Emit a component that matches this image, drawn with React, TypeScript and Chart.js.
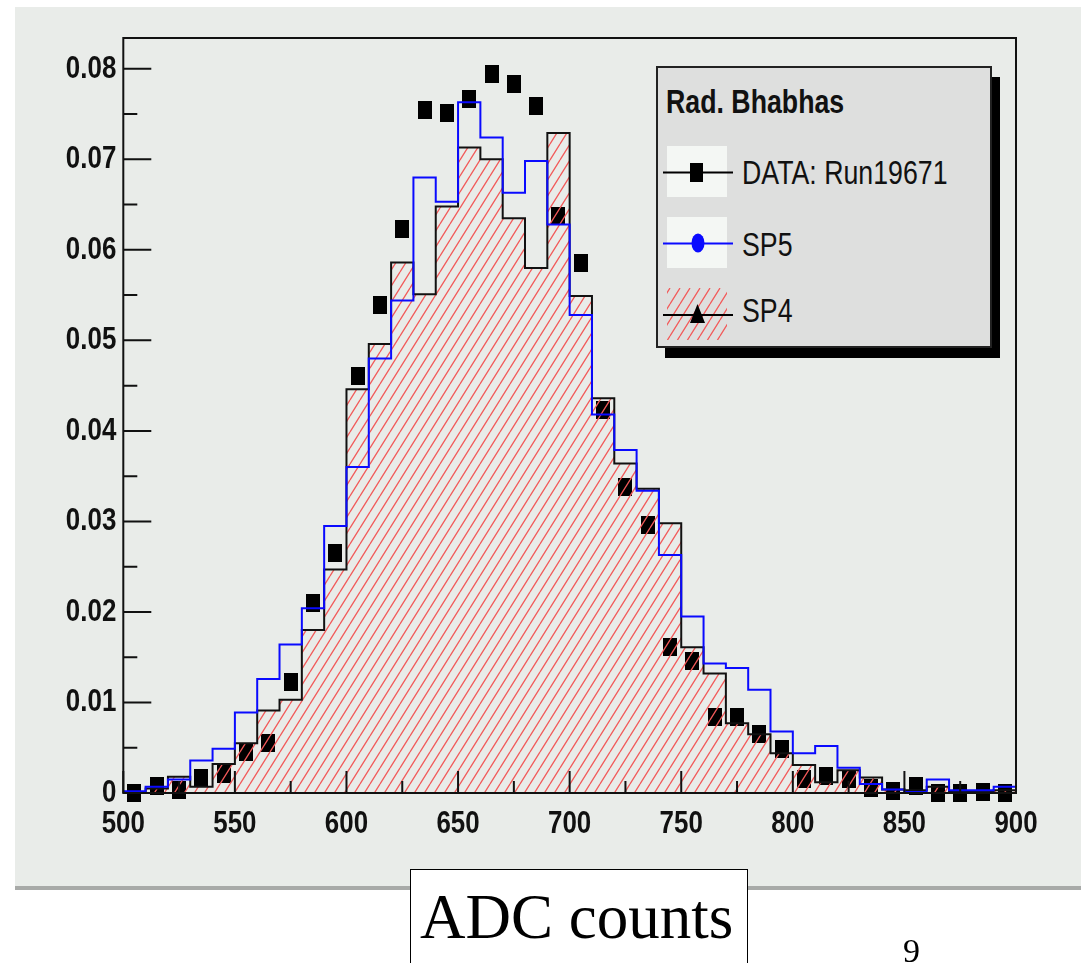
import React, { useEffect, useRef } from 'react';
import { Chart, registerables } from 'chart.js';

Chart.register(...registerables);

// ---- data ----
const binLowEdges = [
  500, 510, 520, 530, 540, 550, 560, 570, 580, 590,
  600, 610, 620, 630, 640, 650, 660, 670, 680, 690,
  700, 710, 720, 730, 740, 750, 760, 770, 780, 790,
  800, 810, 820, 830, 840, 850, 860, 870, 880, 890,
];
const histMin = 500;
const histMax = 900;

const sp4Values = [
  0.0001, 0.0005, 0.0018, 0.0007, 0.0032, 0.0055, 0.0091, 0.0103, 0.0180, 0.0247,
  0.0446, 0.0496, 0.0586, 0.0551, 0.0648, 0.0713, 0.0700, 0.0635, 0.0580, 0.0729,
  0.0549, 0.0436, 0.0364, 0.0336, 0.0298, 0.0161, 0.0132, 0.0077, 0.0065, 0.0044,
  0.0031, 0.0012, 0.0025, 0.0017, 0.0004, 0.0003, 0.0007, 0.0002, 0.0002, 0.0003,
];

const sp5Values = [
  0.0002, 0.0007, 0.0015, 0.0036, 0.0049, 0.0089, 0.0126, 0.0164, 0.0204, 0.0295,
  0.0360, 0.0480, 0.0544, 0.0680, 0.0653, 0.0763, 0.0724, 0.0663, 0.0698, 0.0628,
  0.0528, 0.0418, 0.0379, 0.0334, 0.0263, 0.0195, 0.0143, 0.0138, 0.0114, 0.0068,
  0.0044, 0.0052, 0.0028, 0.0010, 0.0004, 0.0001, 0.0015, 0.0003, 0.0003, 0.0007,
];

const dataCenters = [
  505, 515, 525, 535, 545, 555, 565, 575, 585, 595,
  605, 615, 625, 635, 645, 655, 665, 675, 685, 695,
  705, 715, 725, 735, 745, 755, 765, 775, 785, 795,
  805, 815, 825, 835, 845, 855, 865, 875, 885, 895,
];
const dataValues = [
  0.0000, 0.0008, 0.0003, 0.0017, 0.0021, 0.0045, 0.0055, 0.0123, 0.0210, 0.0265,
  0.0461, 0.0539, 0.0623, 0.0754, 0.0751, 0.0767, 0.0794, 0.0783, 0.0759, 0.0637,
  0.0585, 0.0423, 0.0338, 0.0296, 0.0161, 0.0146, 0.0084, 0.0084, 0.0065, 0.0049,
  0.0016, 0.0019, 0.0016, 0.0005, 0.0002, 0.0008, 0.0000, 0.0000, 0.0001, 0.0000,
];

const xTickLabels = [500, 550, 600, 650, 700, 750, 800, 850, 900];
const xTickMarks = [
  500, 525, 550, 575, 600, 625, 650, 675, 700, 725, 750, 775, 800, 825, 850, 875, 900,
];
const yTickLabels = [0, 0.01, 0.02, 0.03, 0.04, 0.05, 0.06, 0.07, 0.08];
const yTickMarks = [
  0, 0.005, 0.01, 0.015, 0.02, 0.025, 0.03, 0.035, 0.04, 0.045,
  0.05, 0.055, 0.06, 0.065, 0.07, 0.075, 0.08,
];
const yMax = 0.0834;

const legendTitle = 'Rad. Bhabhas';
const legendLabels = ['DATA: Run19671', 'SP5', 'SP4'];

// ---- helpers ----
const CONDENSE = 0.81;

function histPoints(values: number[]) {
  const pts: { x: number; y: number }[] = [{ x: histMin, y: 0 }];
  binLowEdges.forEach((e, i) => pts.push({ x: e, y: values[i] }));
  pts.push({ x: histMax, y: values[values.length - 1] });
  pts.push({ x: histMax, y: 0 });
  return pts;
}

function makeHatch(ctx: CanvasRenderingContext2D) {
  const c = document.createElement('canvas');
  c.width = 10;
  c.height = 16;
  const g = c.getContext('2d')!;
  g.strokeStyle = '#f25a5a';
  g.lineWidth = 1.3;
  g.beginPath();
  g.moveTo(-10, 16);
  g.lineTo(0, 0);
  g.moveTo(0, 16);
  g.lineTo(10, 0);
  g.moveTo(10, 16);
  g.lineTo(20, 0);
  g.stroke();
  return ctx.createPattern(c, 'repeat')!;
}

function makeSquareMarker() {
  const c = document.createElement('canvas');
  c.width = 14;
  c.height = 18;
  const g = c.getContext('2d')!;
  g.fillStyle = '#000';
  g.fillRect(0, 0, 14, 18);
  return c;
}

// Tick labels of the reference are in a narrow face: condense canvas text horizontally
const condensePlugin = {
  id: 'condenseText',
  beforeDraw(chart: any) {
    const ctx: any = chart.ctx;
    if (!ctx.__origFillText) {
      const orig = ctx.fillText;
      ctx.__origFillText = orig;
      ctx.fillText = function (t: string, x: number, y: number, mw?: number) {
        const w = this.measureText(t).width * CONDENSE;
        return orig.call(this, t, x, y, mw !== undefined ? Math.min(mw, w) : w);
      };
    }
  },
  afterDraw(chart: any) {
    const ctx: any = chart.ctx;
    if (ctx.__origFillText) {
      ctx.fillText = ctx.__origFillText;
      delete ctx.__origFillText;
    }
  },
};

const frameTicksPlugin = {
  id: 'rootFrameTicks',
  afterDatasetsDraw(chart: any) {
    const { ctx, chartArea: a, scales } = chart;
    const xs = scales.x;
    const ys = scales.y;
    ctx.save();
    ctx.strokeStyle = '#111';
    ctx.lineWidth = 2;
    ctx.strokeRect(a.left, a.top, a.right - a.left, a.bottom - a.top);
    ctx.beginPath();
    xTickMarks.forEach((v) => {
      const px = xs.getPixelForValue(v);
      const len = v % 50 === 0 ? 22 : 12;
      ctx.moveTo(px, a.bottom);
      ctx.lineTo(px, a.bottom - len);
    });
    yTickMarks.forEach((v) => {
      const py = ys.getPixelForValue(v);
      const major = Math.round(v * 1000) % 10 === 0;
      const len = major ? 28 : 14;
      ctx.moveTo(a.left, py);
      ctx.lineTo(a.left + len, py);
    });
    ctx.stroke();
    ctx.restore();
  },
};

const sans = "'Liberation Sans', Arial, Helvetica, sans-serif";
const tickFont = { family: sans, size: 32, weight: 'bold' as const };

export default function App() {
  const canvasRef = useRef<HTMLCanvasElement | null>(null);

  useEffect(() => {
    document.body.style.margin = '0';
    const canvas = canvasRef.current!;
    const ctx = canvas.getContext('2d')!;
    const hatch = makeHatch(ctx);
    const marker = makeSquareMarker();

    const chart = new Chart(ctx, {
      type: 'line',
      data: {
        datasets: [
          {
            label: 'SP5',
            data: histPoints(sp5Values),
            borderColor: '#0a0aff',
            borderWidth: 2,
            stepped: 'before',
            fill: false,
            pointRadius: 0,
            order: 1,
          } as any,
          {
            label: 'SP4',
            data: histPoints(sp4Values),
            borderColor: '#111',
            borderWidth: 2,
            backgroundColor: hatch,
            stepped: 'before',
            fill: 'origin',
            pointRadius: 0,
            order: 2,
          } as any,
          {
            label: 'DATA: Run19671',
            data: dataCenters.map((x, i) => ({ x, y: dataValues[i] })),
            showLine: false,
            pointStyle: marker,
            pointRadius: 7,
            clip: false,
            order: 3,
          } as any,
        ],
      },
      options: {
        animation: false,
        responsive: false,
        maintainAspectRatio: false,
        devicePixelRatio: 1,
        events: [],
        layout: { padding: { left: 0, right: 70, top: 38, bottom: 0 } },
        plugins: {
          legend: { display: false },
          tooltip: { enabled: false },
        },
        scales: {
          x: {
            type: 'linear',
            min: histMin,
            max: histMax,
            afterBuildTicks: (s: any) => {
              s.ticks = xTickLabels.map((v) => ({ value: v }));
            },
            afterFit: (s: any) => {
              s.height = 170;
            },
            ticks: {
              font: tickFont,
              color: '#111',
              padding: 12,
              maxRotation: 0,
              autoSkip: false,
              callback: (v: any) => String(v),
            },
            grid: { display: false, drawTicks: false },
            border: { display: false },
          },
          y: {
            type: 'linear',
            min: 0,
            max: yMax,
            afterBuildTicks: (s: any) => {
              s.ticks = yTickLabels.map((v) => ({ value: v }));
            },
            afterFit: (s: any) => {
              s.width = 123.3;
            },
            ticks: {
              font: tickFont,
              color: '#111',
              padding: 7,
              autoSkip: false,
              callback: (v: any) => (v === 0 ? '0' : Number(v).toFixed(2)),
            },
            grid: { display: false, drawTicks: false },
            border: { display: false },
          },
        },
      },
      plugins: [condensePlugin, frameTicksPlugin],
    } as any);

    return () => chart.destroy();
  }, []);

  const abs = (s: React.CSSProperties): React.CSSProperties => ({ position: 'absolute', ...s });
  const legendText = (left: number, top: number, bold: boolean): React.CSSProperties =>
    abs({
      left,
      top,
      fontFamily: sans,
      fontWeight: bold ? 'bold' : 'normal',
      fontSize: 33,
      lineHeight: '33px',
      color: '#111',
      whiteSpace: 'nowrap',
      transform: `scaleX(${CONDENSE})`,
      transformOrigin: 'left top',
    });

  return (
    <div style={{ position: 'relative', width: 1086, height: 963, overflow: 'hidden', background: '#fff' }}>
      <div style={abs({ left: 15, top: 7, width: 1066, height: 879, background: '#e9ece9' })} />
      <div style={abs({ left: 15, top: 886, width: 1066, height: 4, background: '#a8aaa8' })} />
      <canvas ref={canvasRef} width={1086} height={963} style={abs({ left: 0, top: 0, display: 'block' })} />

      <svg width={1086} height={963} style={abs({ left: 0, top: 0 })}>
        <defs>
          <pattern id="hatch" patternUnits="userSpaceOnUse" width="10" height="16">
            <path d="M-10,16 L0,0 M0,16 L10,0 M10,16 L20,0" stroke="#f25a5a" strokeWidth="1.3" />
          </pattern>
        </defs>
        <rect x={665} y={77} width={335} height={281} fill="#000" />
        <rect x={657} y={67} width={334} height={280} fill="#dedfde" stroke="#222" strokeWidth={2} />
        {/* DATA */}
        <rect x={667} y={146} width={60} height={51} fill="#f4f7f4" />
        <line x1={663} y1={172.5} x2={733} y2={172.5} stroke="#000" strokeWidth={2} />
        <rect x={690} y={163} width={13} height={19} fill="#000" />
        {/* SP5 */}
        <rect x={667} y={217} width={60} height={51} fill="#f4f7f4" />
        <line x1={663} y1={243.5} x2={733} y2={243.5} stroke="#0a0aff" strokeWidth={2} />
        <ellipse cx={698} cy={243} rx={6.5} ry={9.5} fill="#0a0aff" />
        {/* SP4 */}
        <rect x={667} y={288} width={60} height={52} fill="url(#hatch)" />
        <line x1={663} y1={315} x2={733} y2={315} stroke="#000" strokeWidth={2} />
        <polygon points="690,323 705,323 697.5,304" fill="#000" />
      </svg>

      <div style={legendText(666, 84.7, true)}>{legendTitle}</div>
      <div style={legendText(742, 155.7, false)}>{legendLabels[0]}</div>
      <div style={legendText(742, 227.7, false)}>{legendLabels[1]}</div>
      <div style={legendText(742, 294, false)}>{legendLabels[2]}</div>

      <div style={abs({ left: 410, top: 869, width: 338, height: 140, boxSizing: 'border-box', border: '1.5px solid #000', background: '#fff' })} />
      <div style={abs({ left: 420, top: 886, fontFamily: "'Liberation Serif', 'Times New Roman', serif", fontSize: 63, lineHeight: '63px', color: '#000', whiteSpace: 'nowrap' })}>
        ADC counts
      </div>
      <div style={abs({ left: 903, top: 933.5, fontFamily: "'Liberation Serif', 'Times New Roman', serif", fontSize: 34, lineHeight: '34px', color: '#000' })}>
        9
      </div>
    </div>
  );
}
